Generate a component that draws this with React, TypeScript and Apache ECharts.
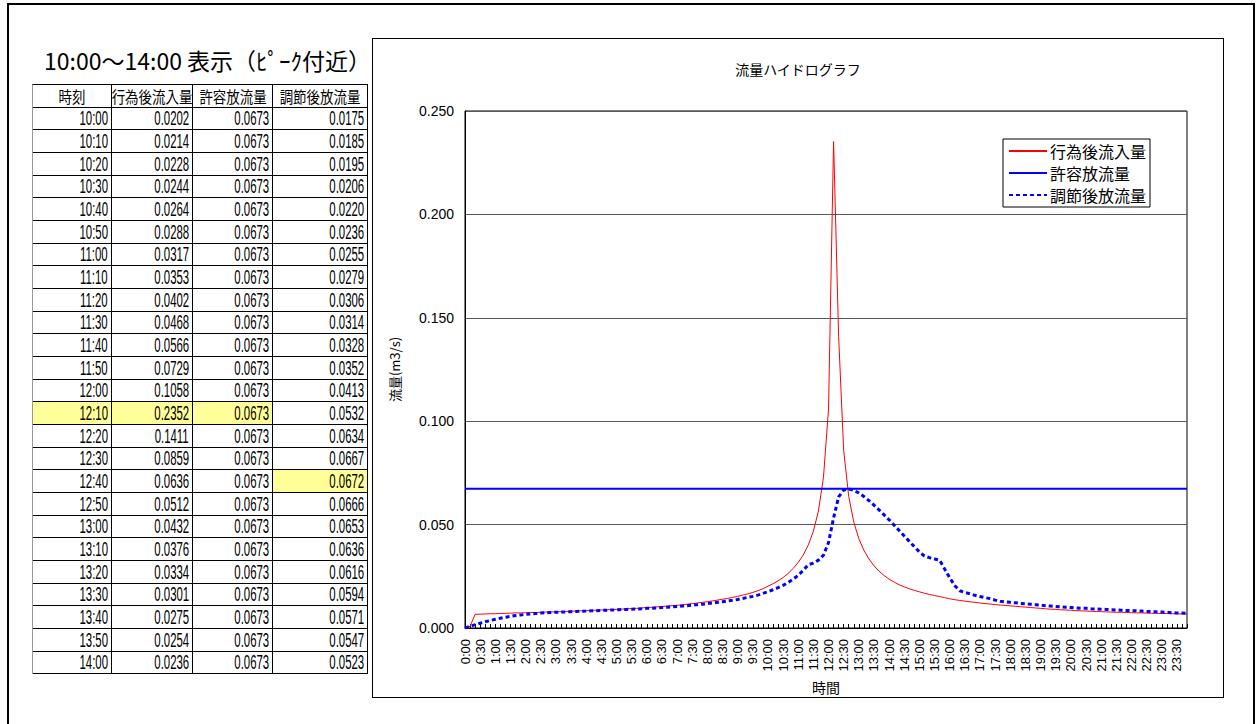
import React, { useEffect, useRef } from "react";
import * as echarts from "echarts";

// ---- data ----
const CATEGORIES: string[] = [];
for (let h = 0; h < 24; h++) {
  for (let m = 0; m < 60; m += 10) CATEGORIES.push(`${h}:${m === 0 ? "00" : m}`);
}

const SERIES_NAMES = ["行為後流入量", "許容放流量", "調節後放流量"];

const INFLOW = [
  0, 0.0008, 0.0066, 0.0067, 0.0068, 0.0069, 0.0069, 0.0070, 0.0071, 0.0072, 0.0073, 0.0073,
  0.0074, 0.0075, 0.0075, 0.0076, 0.0077, 0.0078, 0.0078, 0.0079, 0.0080, 0.0081, 0.0082, 0.0083,
  0.0084, 0.0085, 0.0086, 0.0087, 0.0088, 0.0089, 0.0090, 0.0091, 0.0093, 0.0094, 0.0095, 0.0097,
  0.0099, 0.0100, 0.0102, 0.0104, 0.0106, 0.0108, 0.0110, 0.0112, 0.0115, 0.0118, 0.0121, 0.0124,
  0.0127, 0.0131, 0.0135, 0.0139, 0.0143, 0.0148, 0.0153, 0.0159, 0.0165, 0.0172, 0.0180, 0.0190,
  0.0202, 0.0214, 0.0228, 0.0244, 0.0264, 0.0288, 0.0317, 0.0353, 0.0402, 0.0468, 0.0566, 0.0729,
  0.1058, 0.2352, 0.1411, 0.0859, 0.0636, 0.0512, 0.0432, 0.0376, 0.0334, 0.0301, 0.0275, 0.0254,
  0.0236, 0.0222, 0.0209, 0.0199, 0.0190, 0.0182, 0.0175, 0.0168, 0.0162, 0.0157, 0.0152, 0.0147,
  0.0141, 0.0137, 0.0133, 0.0130, 0.0127, 0.0124, 0.0121, 0.0118, 0.0116, 0.0113, 0.0111, 0.0109,
  0.0107, 0.0105, 0.0103, 0.0101, 0.0099, 0.0097, 0.0095, 0.0093, 0.0091, 0.0090, 0.0088, 0.0087,
  0.0086, 0.0084, 0.0083, 0.0082, 0.0081, 0.0080, 0.0079, 0.0078, 0.0077, 0.0076, 0.0076, 0.0075,
  0.0074, 0.0073, 0.0073, 0.0072, 0.0071, 0.0071, 0.0070, 0.0070, 0.0069, 0.0069, 0.0068, 0.0068,
];

const ALLOWED = [
  0.0673, 0.0673, 0.0673, 0.0673, 0.0673, 0.0673, 0.0673, 0.0673, 0.0673, 0.0673, 0.0673, 0.0673,
  0.0673, 0.0673, 0.0673, 0.0673, 0.0673, 0.0673, 0.0673, 0.0673, 0.0673, 0.0673, 0.0673, 0.0673,
  0.0673, 0.0673, 0.0673, 0.0673, 0.0673, 0.0673, 0.0673, 0.0673, 0.0673, 0.0673, 0.0673, 0.0673,
  0.0673, 0.0673, 0.0673, 0.0673, 0.0673, 0.0673, 0.0673, 0.0673, 0.0673, 0.0673, 0.0673, 0.0673,
  0.0673, 0.0673, 0.0673, 0.0673, 0.0673, 0.0673, 0.0673, 0.0673, 0.0673, 0.0673, 0.0673, 0.0673,
  0.0673, 0.0673, 0.0673, 0.0673, 0.0673, 0.0673, 0.0673, 0.0673, 0.0673, 0.0673, 0.0673, 0.0673,
  0.0673, 0.0673, 0.0673, 0.0673, 0.0673, 0.0673, 0.0673, 0.0673, 0.0673, 0.0673, 0.0673, 0.0673,
  0.0673, 0.0673, 0.0673, 0.0673, 0.0673, 0.0673, 0.0673, 0.0673, 0.0673, 0.0673, 0.0673, 0.0673,
  0.0673, 0.0673, 0.0673, 0.0673, 0.0673, 0.0673, 0.0673, 0.0673, 0.0673, 0.0673, 0.0673, 0.0673,
  0.0673, 0.0673, 0.0673, 0.0673, 0.0673, 0.0673, 0.0673, 0.0673, 0.0673, 0.0673, 0.0673, 0.0673,
  0.0673, 0.0673, 0.0673, 0.0673, 0.0673, 0.0673, 0.0673, 0.0673, 0.0673, 0.0673, 0.0673, 0.0673,
  0.0673, 0.0673, 0.0673, 0.0673, 0.0673, 0.0673, 0.0673, 0.0673, 0.0673, 0.0673, 0.0673, 0.0673,
];

const OUTFLOW = [
  0, 0.0008, 0.0016, 0.0023, 0.0030, 0.0036, 0.0042, 0.0047, 0.0052, 0.0056, 0.0060, 0.0063,
  0.0066, 0.0068, 0.0070, 0.0072, 0.0074, 0.0075, 0.0076, 0.0077, 0.0078, 0.0079, 0.0080, 0.0081,
  0.0082, 0.0083, 0.0084, 0.0085, 0.0086, 0.0087, 0.0088, 0.0089, 0.0090, 0.0091, 0.0092, 0.0093,
  0.0095, 0.0096, 0.0097, 0.0099, 0.0100, 0.0102, 0.0104, 0.0106, 0.0108, 0.0110, 0.0113, 0.0115,
  0.0118, 0.0121, 0.0124, 0.0127, 0.0131, 0.0134, 0.0138, 0.0143, 0.0148, 0.0153, 0.0159, 0.0167,
  0.0175, 0.0185, 0.0195, 0.0206, 0.0220, 0.0236, 0.0255, 0.0279, 0.0306, 0.0314, 0.0328, 0.0352,
  0.0413, 0.0532, 0.0634, 0.0667, 0.0672, 0.0666, 0.0653, 0.0636, 0.0616, 0.0594, 0.0571, 0.0547,
  0.0523, 0.0497, 0.0471, 0.0445, 0.0419, 0.0393, 0.0368, 0.0348, 0.0340, 0.0334, 0.0328, 0.0285,
  0.0243, 0.0205, 0.0180, 0.0172, 0.0166, 0.0158, 0.0152, 0.0147, 0.0142, 0.0135, 0.0129, 0.0126,
  0.0124, 0.0122, 0.0119, 0.0117, 0.0115, 0.0113, 0.0111, 0.0108, 0.0106, 0.0104, 0.0102, 0.0100,
  0.0099, 0.0097, 0.0096, 0.0095, 0.0093, 0.0092, 0.0091, 0.0090, 0.0088, 0.0087, 0.0086, 0.0085,
  0.0084, 0.0083, 0.0082, 0.0080, 0.0079, 0.0078, 0.0077, 0.0076, 0.0074, 0.0073, 0.0072, 0.0071,
];

// table shows 10:00 - 14:00 (indices 60..84)
const TABLE_START = 60;
const TABLE_END = 85;
const TABLE_HEADERS = ["時刻", "行為後流入量", "許容放流量", "調節後放流量"];
const HIGHLIGHT_ROW = "12:10"; // cols 0-2
const HIGHLIGHT_OUT = "12:40"; // col 3

const CJK = '"Noto Sans CJK JP", "Noto Sans", sans-serif';
const LATIN = '"Liberation Sans", Arial, "Noto Sans CJK JP", sans-serif';

const COL_W = [79, 81, 80, 95];
const ROW_H = 22.68;

function Cell({ text, width, bg, header }: { text: string; width: number; bg?: string; header?: boolean }) {
  return (
    <div
      style={{
        width,
        height: ROW_H,
        boxSizing: "border-box",
        borderRight: "1px solid #000",
        borderBottom: "1px solid #000",
        background: bg || "#fff",
        display: "flex",
        alignItems: "center",
        justifyContent: header ? "center" : "flex-end",
        paddingRight: header ? 0 : 3,
        overflow: "hidden",
        flex: "none",
      }}
    >
      <span
        style={{
          display: "inline-block",
          whiteSpace: "nowrap",
          transform: header ? "scaleX(0.84)" : "scaleX(0.57)",
          transformOrigin: header ? "center center" : "right center",
          fontFamily: header ? CJK : LATIN,
          fontSize: header ? 16 : 20,
          lineHeight: `${ROW_H}px`,
          color: "#000",
        }}
      >
        {text}
      </span>
    </div>
  );
}

function DataTable() {
  const rows: string[][] = [];
  for (let i = TABLE_START; i < TABLE_END; i++) {
    rows.push([
      CATEGORIES[i],
      INFLOW[i].toFixed(4),
      ALLOWED[i].toFixed(4),
      OUTFLOW[i].toFixed(4),
    ]);
  }
  return (
    <div
      style={{
        position: "absolute",
        left: 32,
        top: 84,
        borderTop: "1px solid #000",
        borderLeft: "1px solid #999",
      }}
    >
      <div style={{ display: "flex" }}>
        {TABLE_HEADERS.map((h, j) => (
          <Cell key={j} text={h} width={COL_W[j]} header />
        ))}
      </div>
      {rows.map((r, i) => (
        <div key={i} style={{ display: "flex" }}>
          {r.map((c, j) => {
            let bg: string | undefined;
            if (r[0] === HIGHLIGHT_ROW && j <= 2) bg = "#ffff99";
            if (r[0] === HIGHLIGHT_OUT && j === 3) bg = "#ffff99";
            return <Cell key={j} text={c} width={COL_W[j]} bg={bg} />;
          })}
        </div>
      ))}
    </div>
  );
}

function Chart() {
  const ref = useRef<HTMLDivElement>(null);
  useEffect(() => {
    if (!ref.current) return;
    const chart = echarts.init(ref.current, undefined, { renderer: "svg" });
    chart.setOption({
      animation: false,
      backgroundColor: "#fff",
      title: {
        text: "流量ハイドログラフ",
        left: "center",
        top: 18,
        textStyle: { fontSize: 14, fontWeight: "normal", color: "#000", fontFamily: CJK },
      },
      grid: {
        left: 92,
        top: 72,
        right: 36,
        bottom: 69,
        show: true,
        borderColor: "#000",
        borderWidth: 1,
        backgroundColor: "transparent",
        containLabel: false,
        outerBoundsMode: "none",
      },
      legend: {
        orient: "vertical",
        left: 630,
        top: 100,
        borderColor: "#000",
        borderWidth: 1,
        backgroundColor: "#fff",
        padding: [4, 4, 4, 5],
        itemGap: 6,
        itemWidth: 38,
        itemHeight: 14,
        itemStyle: { opacity: 0 },
        textStyle: { fontSize: 16, color: "#000", fontFamily: CJK, padding: [0, 0, 0, -2] },
        data: SERIES_NAMES,
      },
      xAxis: {
        type: "category",
        data: CATEGORIES,
        boundaryGap: false,
        name: "時間",
        nameLocation: "middle",
        nameGap: 51,
        nameTextStyle: { fontSize: 14, color: "#000", fontFamily: CJK, lineHeight: 16 },
        axisLine: { lineStyle: { color: "#000", width: 1 } },
        axisTick: { interval: 0, inside: true, length: 4, lineStyle: { color: "#000" } },
        axisLabel: {
          interval: 2,
          rotate: 90,
          fontSize: 13,
          color: "#000",
          margin: 11,
          fontFamily: LATIN,
        },
        splitLine: { show: false },
      },
      yAxis: {
        type: "value",
        min: 0,
        max: 0.25,
        interval: 0.05,
        name: "流量(m3/s)",
        nameLocation: "middle",
        nameGap: 64,
        nameTextStyle: { fontSize: 13, color: "#000", fontFamily: CJK },
        axisLine: { show: true, lineStyle: { color: "#000", width: 1 } },
        axisTick: { show: false },
        axisLabel: {
          fontSize: 14,
          color: "#000",
          margin: 11,
          fontFamily: LATIN,
          formatter: (v: number) => v.toFixed(3),
        },
        splitLine: { show: true, lineStyle: { color: "#595959", width: 1 } },
      },
      series: [
        {
          name: SERIES_NAMES[0],
          type: "line",
          data: INFLOW,
          symbol: "none",
          lineStyle: { color: "#ff0000", width: 1 },
          itemStyle: { color: "#ff0000" },
        },
        {
          name: SERIES_NAMES[1],
          type: "line",
          data: ALLOWED,
          symbol: "none",
          lineStyle: { color: "#0000ff", width: 2 },
          itemStyle: { color: "#0000ff" },
        },
        {
          name: SERIES_NAMES[2],
          type: "line",
          data: OUTFLOW,
          symbol: "none",
          lineStyle: { color: "#0000ff", width: 3, type: [4, 3] },
          itemStyle: { color: "#0000ff" },
        },
      ],
    });
    return () => chart.dispose();
  }, []);
  return (
    <div
      style={{
        position: "absolute",
        left: 372,
        top: 38,
        width: 852,
        height: 660,
        boxSizing: "border-box",
        border: "1px solid #000",
        background: "#fff",
      }}
    >
      <div ref={ref} style={{ width: 850, height: 658 }} />
    </div>
  );
}

export default function App() {
  return (
    <div
      style={{
        position: "absolute",
        left: 0,
        top: 0,
        width: 1258,
        height: 724,
        background: "#fff",
        overflow: "hidden",
      }}
    >
      <div
        style={{
          position: "absolute",
          left: 7,
          top: 3,
          width: 1248,
          height: 760,
          boxSizing: "border-box",
          border: "2px solid #000",
        }}
      />
      <div
        style={{
          position: "absolute",
          left: 44,
          top: 46,
          fontFamily: CJK,
          fontSize: 23,
          lineHeight: "28px",
          color: "#000",
          whiteSpace: "nowrap",
        }}
      >
        10:00～14:00 表示（ﾋﾟｰｸ付近）
      </div>
      <DataTable />
      <Chart />
    </div>
  );
}
